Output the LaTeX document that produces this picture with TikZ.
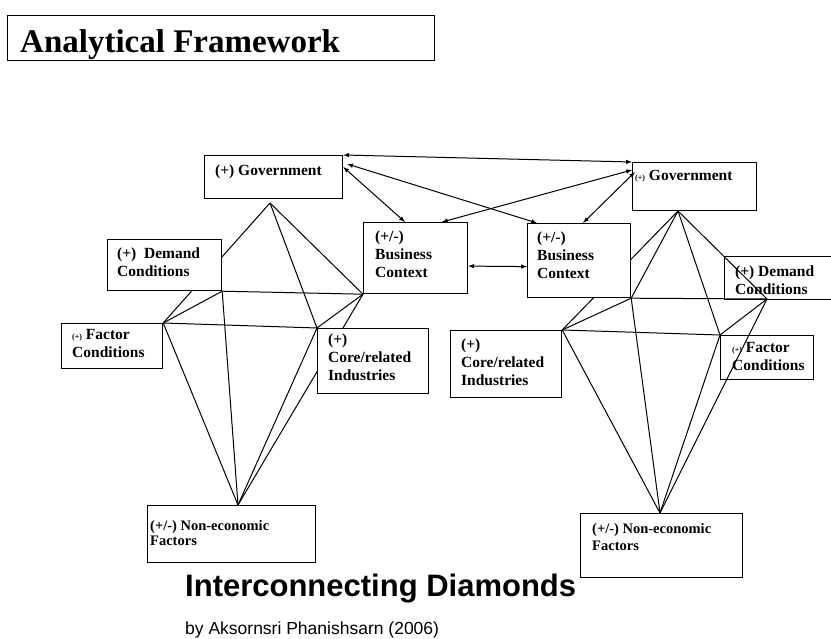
\documentclass[tikz,border=0pt]{standalone}
\usepackage{fontspec}
\setmainfont{Liberation Serif}
\newfontfamily\arialfont{Liberation Sans}
\usetikzlibrary{backgrounds}

\newcommand{\smallplus}{{\fontsize{8}{10}\selectfont(+)}}

\tikzset{
	box/.style={draw, line width=1.2pt, fill=white, anchor=north west, inner sep=0pt},
	openbox/.style={draw, line width=1.2pt, anchor=north west, inner sep=0pt},
	lbl/.style={anchor=north west, inner sep=0pt, align=left, font=\fontsize{15.5}{18}\selectfont\bfseries},
	edge/.style={line width=1pt},
	link/.style={<->, >=latex, line width=1pt}
}

\begin{document}
\begin{tikzpicture}[x=1pt, y=-1pt]
	\useasboundingbox (0,0) rectangle (831,639);
	
	%TITLE
	\node[openbox, minimum width=427, minimum height=45] (title) at (7,15) {};
	\node[anchor=base west, inner sep=0pt, font=\fontsize{33}{38}\selectfont\bfseries] (titletxt) at (20,53) {Analytical Framework};
	
	%LEFT DIAMOND
	\node[box, minimum width=138, minimum height=43] (lgov) at (204,155) {};
	\node[box, minimum width=114, minimum height=51] (ldem) at (107,239) {};
	\node[box, minimum width=104, minimum height=71] (lbc) at (363,222) {};
	\node[box, minimum width=101, minimum height=45] (lfac) at (61,323) {};
	\node[box, minimum width=111, minimum height=65] (lcore) at (317,328) {};
	\node[box, minimum width=168, minimum height=57] (lnon) at (147,505) {};
	
	\node[lbl] (lgovt) at (215,165) {(+) Government};
	\node[lbl] (ldemt) at (117,248) {(+)\ \ Demand\\Conditions};
	\node[lbl] (lbct) at (375,231) {(+/-)\\Business\\Context};
	\node[lbl] (lfact) at (72,329) {\smallplus{} Factor\\Conditions};
	\node[lbl] (lcoret) at (328,334) {(+)\\Core/related\\Industries};
	\node[lbl, font=\fontsize{14.5}{15}\selectfont\bfseries] (lnont) at (150,520) {(+/-) Non-economic\\Factors};
	
	\coordinate (lG) at (270,203);
	\coordinate (lD) at (ldem.south east);
	\coordinate (lB) at (lbc.south west);
	\coordinate (lF) at (lfac.north east);
	\coordinate (lC) at (lcore.north west);
	\coordinate (lN) at (238,505);
	
	%RIGHT DIAMOND
	\node[box, minimum width=124, minimum height=48] (rgov) at (632,162) {};
	\node[openbox, minimum width=130, minimum height=43] (rdem) at (724,256) {};
	\node[box, minimum width=103, minimum height=74] (rbc) at (527,223) {};
	\node[box, minimum width=111, minimum height=67] (rcore) at (450,330) {};
	\node[openbox, minimum width=93, minimum height=44] (rfac) at (720,335) {};
	\node[box, minimum width=162, minimum height=64] (rnon) at (580,513) {};
	
	\node[lbl] (rgovt) at (635,170) {\smallplus{} Government};
	\node[lbl] (rdemt) at (735,266) {(+) Demand\\Conditions};
	\node[lbl] (rbct) at (537,232) {(+/-)\\Business\\Context};
	\node[lbl] (rcoret) at (461,339) {(+)\\Core/related\\Industries};
	\node[lbl] (rfact) at (732,342) {\smallplus{} Factor\\Conditions};
	\node[lbl, font=\fontsize{14.5}{17}\selectfont\bfseries] (rnont) at (592,523) {(+/-) Non-economic\\Factors};
	
	\coordinate (rG) at (678,211);
	\coordinate (rD) at (rbc.south east);
	\coordinate (rP) at (767,299);
	\coordinate (rC) at (rcore.north east);
	\coordinate (rF) at (rfac.north west);
	\coordinate (rN) at (660,513);
	
	\begin{pgfonlayer}{background}
	\foreach \a/\b in {lG/lF, lG/lC, lG/lB, lD/lF, lD/lB, lD/lN, lF/lC, lF/lN, lC/lB, lC/lN, lB/lN}
	\draw[edge] (\a)--(\b);
	
	\foreach \a/\b in {rG/rC, rG/rD, rG/rF, rG/rP, rD/rP, rD/rC, rD/rN, rP/rF, rP/rN, rC/rF, rC/rN, rF/rN}
	\draw[edge] (\a)--(\b);
	\end{pgfonlayer}
	
	%LINKS
	\draw[link] (lgov.north east)--(rgov.north west);
	\draw[link] ([yshift=-12pt]lgov.north east)--([xshift=42pt]lbc.north west);
	\draw[link] ([shift={(4pt,-9pt)}]lgov.north east)--([xshift=10pt]rbc.north west);
	\draw[link] ([yshift=-8pt]rgov.north west)--([xshift=79pt]lbc.north west);
	\draw[link] ([shift={(3pt,-10pt)}]rgov.north west)--([xshift=56pt]rbc.north west);
	\draw[link] ([yshift=-8pt]lbc.east)--([yshift=-6pt]rbc.west);
	
	%CAPTION
	\node[anchor=base west, inner sep=0pt, font=\arialfont\fontsize{31}{36}\selectfont\bfseries] (cap) at (185,596) {Interconnecting Diamonds};
	\node[anchor=base west, inner sep=0pt, font=\arialfont\fontsize{17.5}{21}\selectfont] (byline) at (185,634) {by Aksornsri Phanishsarn (2006)};
\end{tikzpicture}
\end{document}
